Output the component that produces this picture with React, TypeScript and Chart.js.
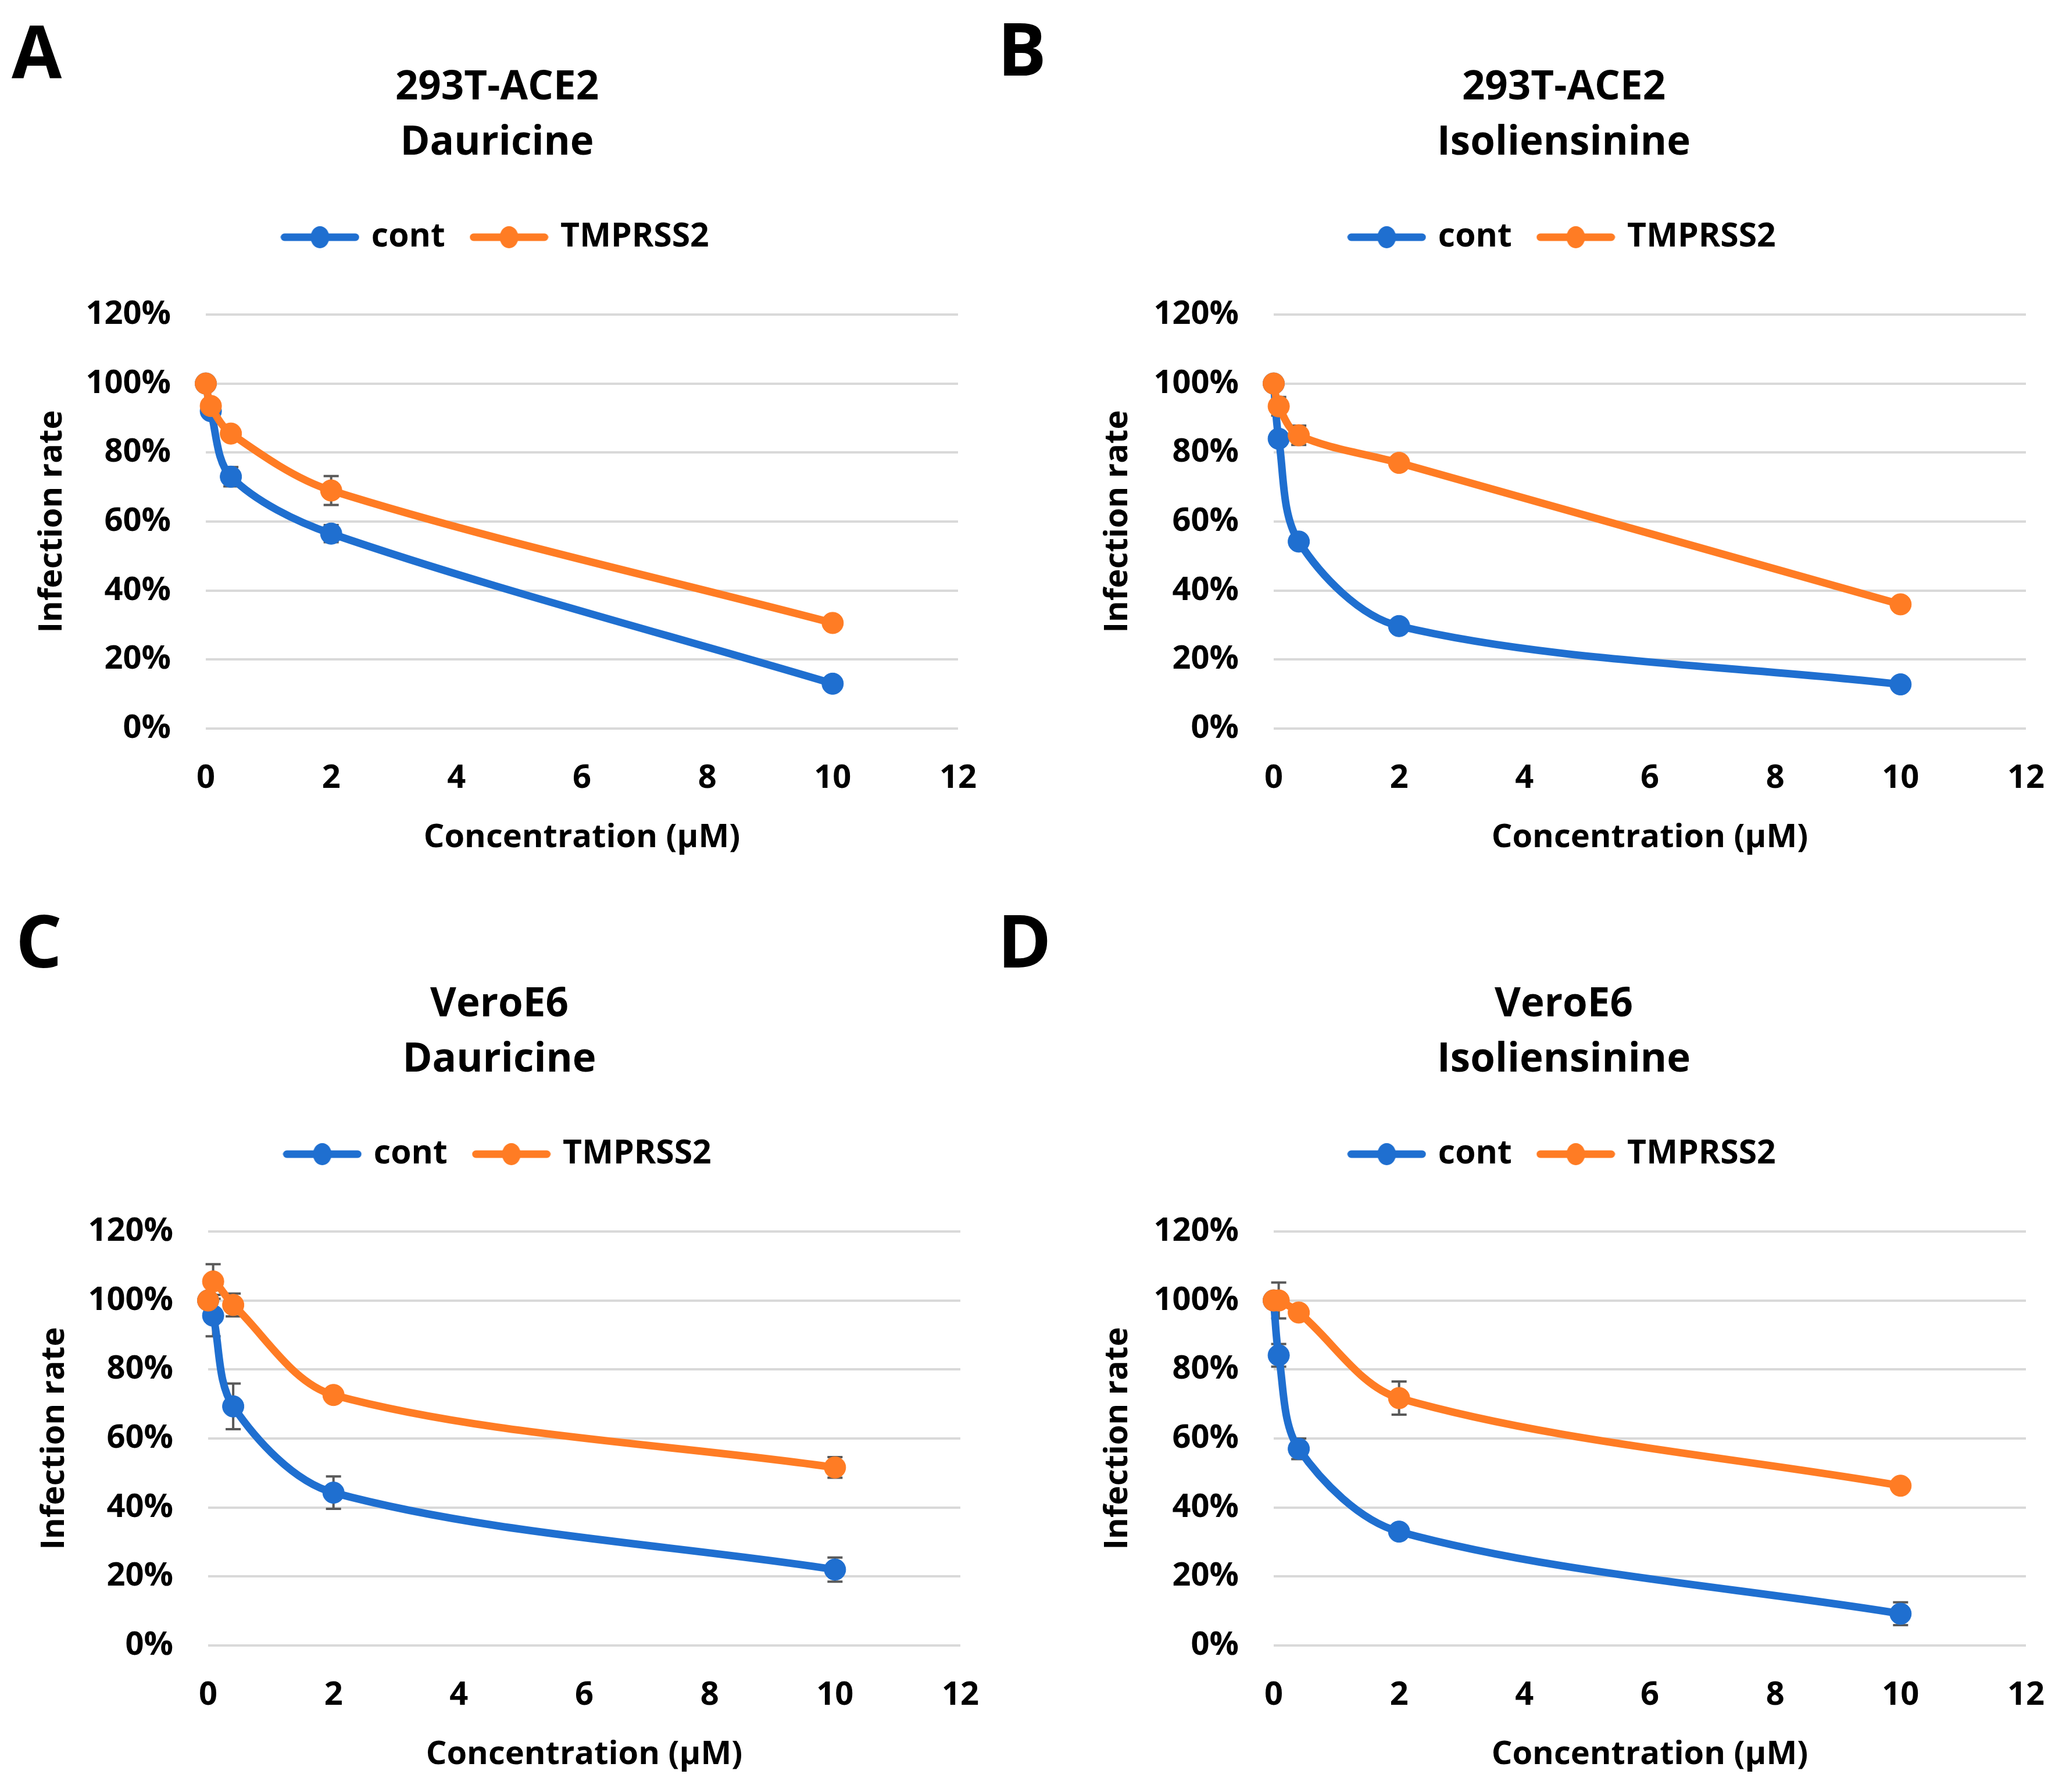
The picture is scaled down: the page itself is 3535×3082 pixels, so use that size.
import { useEffect, useRef } from 'react'
import { Chart, ChartConfiguration, Plugin, registerables } from 'chart.js'

Chart.register(...registerables)

// concentrations (µM) used in every panel
const CONC = [0, 0.08, 0.4, 2, 10]
const SERIES = ['cont', 'TMPRSS2']
const X_MAX = 12
const X_STEP = 2
const Y_MAX = 120
const Y_STEP = 20

// A: 293T-ACE2 / Dauricine
const A_TITLE = ['293T-ACE2', 'Dauricine']
const A_CONT = [100, 92, 73, 56.5, 13]
const A_CONT_ERR = [0, 1.5, 2.8, 2.5, 1.5]
const A_TMP = [100, 93.5, 85.5, 69, 30.6]
const A_TMP_ERR = [0, 1.5, 1.5, 4.2, 1.5]

// B: 293T-ACE2 / Isoliensinine
const B_TITLE = ['293T-ACE2', 'Isoliensinine']
const B_CONT = [100, 84, 54.2, 29.7, 12.8]
const B_CONT_ERR = [0, 2, 1.5, 1.5, 1.5]
const B_TMP = [100, 93.4, 85, 77, 36]
const B_TMP_ERR = [0, 2.7, 2.8, 1.5, 1.5]

// C: VeroE6 / Dauricine
const C_TITLE = ['VeroE6', 'Dauricine']
const C_CONT = [100, 95.6, 69.3, 44.3, 22]
const C_CONT_ERR = [0, 6, 6.6, 4.7, 3.5]
const C_TMP = [100, 105.5, 98.7, 72.6, 51.6]
const C_TMP_ERR = [0, 5, 3.3, 1.5, 3]

// D: VeroE6 / Isoliensinine
const D_TITLE = ['VeroE6', 'Isoliensinine']
const D_CONT = [100, 84.1, 57, 33, 9.2]
const D_CONT_ERR = [0, 3.3, 3, 1.5, 3.3]
const D_TMP = [100, 100, 96.5, 71.7, 46.3]
const D_TMP_ERR = [0, 5.2, 1.5, 4.8, 1.5]

const BLUE = '#1f6fd0'
const ORANGE = '#ff7c24'
const ERR_COLOR = '#595959'
const GRID = '#d9d9d9'
const FONT = '"Open Sans", "Noto Sans", sans-serif'

interface Box {
  left: number
  top: number
  width: number
  height: number
  yWidth: number
  padRight: number
}

interface PanelProps {
  letter: string
  letterPos: { left: number; top: number }
  title: string[]
  cont: number[]
  contErr: number[]
  tmp: number[]
  tmpErr: number[]
  box: Box
}

function makeSwatch(color: string) {
  const c = document.createElement('canvas')
  c.width = 136
  c.height = 40
  const ctx = c.getContext('2d')!
  ctx.strokeStyle = color
  ctx.lineWidth = 13
  ctx.lineCap = 'round'
  ctx.beginPath()
  ctx.moveTo(7, 20)
  ctx.lineTo(129, 20)
  ctx.stroke()
  ctx.fillStyle = color
  ctx.beginPath()
  ctx.ellipse(68, 20, 16, 19, 0, 0, Math.PI * 2)
  ctx.fill()
  return c
}

// error bars drawn under the lines, from the dataset's errors array
const errorBars: Plugin = {
  id: 'errorBars',
  beforeDatasetsDraw(chart) {
    const { ctx } = chart
    const y = chart.scales.y
    ctx.save()
    ctx.strokeStyle = ERR_COLOR
    ctx.lineWidth = 4
    chart.data.datasets.forEach((ds: any, i) => {
      const meta = chart.getDatasetMeta(i)
      meta.data.forEach((pt: any, j) => {
        const e = ds.errors[j]
        if (!e) return
        const v = ds.data[j].y
        const top = y.getPixelForValue(v + e)
        const bot = y.getPixelForValue(v - e)
        ctx.beginPath()
        ctx.moveTo(pt.x, top)
        ctx.lineTo(pt.x, bot)
        ctx.moveTo(pt.x - 13, top)
        ctx.lineTo(pt.x + 13, top)
        ctx.moveTo(pt.x - 13, bot)
        ctx.lineTo(pt.x + 13, bot)
        ctx.stroke()
      })
    })
    ctx.restore()
  },
}

function Panel({ letter, letterPos, title, cont, contErr, tmp, tmpErr, box }: PanelProps) {
  const chartRef = useRef<HTMLCanvasElement>(null)
  const chartInstance = useRef<Chart | null>(null)

  useEffect(() => {
    if (!chartRef.current) return
    if (chartInstance.current) chartInstance.current.destroy()
    const ctx = chartRef.current.getContext('2d')
    if (!ctx) return

    const swatches = [makeSwatch(BLUE), makeSwatch(ORANGE)]

    const line = (label: string, vals: number[], errs: number[], color: string, order: number) => ({
      label,
      data: CONC.map((x, i) => ({ x, y: vals[i] })),
      errors: errs,
      borderColor: color,
      backgroundColor: color,
      pointBackgroundColor: color,
      pointBorderColor: color,
      pointBorderWidth: 1,
      pointRadius: 18.5,
      borderWidth: 13,
      borderCapStyle: 'round',
      borderJoinStyle: 'round',
      tension: 0.32,
      clip: false,
      order,
    })

    const config: ChartConfiguration = {
      type: 'line',
      data: {
        datasets: [
          line(SERIES[0], cont, contErr, BLUE, 2),
          line(SERIES[1], tmp, tmpErr, ORANGE, 1),
        ] as any,
      },
      options: {
        animation: false,
        responsive: false,
        maintainAspectRatio: false,
        layout: { padding: { top: 0, left: 0, bottom: 0, right: box.padRight } },
        plugins: {
          title: {
            display: true,
            text: title,
            color: '#000',
            font: { family: FONT, size: 69, weight: 'bold', lineHeight: 1.38 },
            padding: { top: 84, bottom: 35 },
          },
          subtitle: {
            // empty spacer between legend and plot
            display: true,
            text: '',
            weight: 500,
            font: { size: 10, lineHeight: 1 },
            padding: { top: 84.5, bottom: 0 },
          } as any,
          legend: {
            display: true,
            labels: {
              color: '#000',
              font: { family: FONT, size: 57, weight: 'bold' },
              padding: 50,
              usePointStyle: true,
              pointStyleWidth: 120,
              generateLabels: (chart: Chart) => {
                const items = Chart.defaults.plugins.legend.labels.generateLabels(chart)
                items.sort((a, b) => (a.datasetIndex ?? 0) - (b.datasetIndex ?? 0))
                items.forEach((it) => {
                  it.pointStyle = swatches[it.datasetIndex ?? 0] as any
                })
                return items
              },
            },
          },
          tooltip: { enabled: false },
        },
        scales: {
          x: {
            type: 'linear',
            min: 0,
            max: X_MAX,
            afterFit: (scale: any) => {
              scale.height = 232
              scale.paddingLeft = 0
              scale.paddingRight = 0
            },
            ticks: {
              stepSize: X_STEP,
              padding: 52,
              color: '#000',
              font: { family: FONT, size: 56, weight: 'bold' },
            },
            grid: { display: false, drawTicks: false },
            border: { display: false },
            title: {
              display: true,
              text: 'Concentration (µM)',
              color: '#000',
              font: { family: FONT, size: 56, weight: 'bold', lineHeight: 1.2 },
              padding: { top: 0, bottom: 10 },
            },
          },
          y: {
            type: 'linear',
            min: 0,
            max: Y_MAX,
            afterFit: (scale: any) => {
              scale.width = box.yWidth
            },
            ticks: {
              stepSize: Y_STEP,
              padding: 60,
              color: '#000',
              font: { family: FONT, size: 56, weight: 'bold' },
              callback: (v: any) => `${v}%`,
            },
            grid: { color: GRID, lineWidth: 4, drawTicks: false },
            border: { display: false },
            title: {
              display: true,
              text: 'Infection rate',
              color: '#000',
              font: { family: FONT, size: 56, weight: 'bold', lineHeight: 1 },
              padding: { top: 0, bottom: 0 },
            },
          },
        },
      },
      plugins: [errorBars],
    }

    chartInstance.current = new Chart(ctx, config)

    return () => {
      if (chartInstance.current) {
        chartInstance.current.destroy()
        chartInstance.current = null
      }
    }
  }, [title, cont, contErr, tmp, tmpErr, box])

  return (
    <>
      <div
        style={{
          position: 'absolute',
          left: letterPos.left,
          top: letterPos.top,
          fontFamily: FONT,
          fontWeight: 700,
          fontSize: 125,
          lineHeight: 1,
          color: '#000',
        }}
      >
        {letter}
      </div>
      <canvas
        ref={chartRef}
        width={box.width}
        height={box.height}
        style={{ position: 'absolute', left: box.left, top: box.top, width: box.width, height: box.height }}
      />
    </>
  )
}

const BOX_A: Box = { left: 62, top: 20, width: 1636, height: 1465, yWidth: 292, padRight: 50 }
const BOX_B: Box = { left: 1895, top: 20, width: 1635, height: 1465, yWidth: 296, padRight: 45 }
const BOX_C: Box = { left: 66, top: 1597, width: 1636, height: 1465, yWidth: 292, padRight: 50 }
const BOX_D: Box = { left: 1895, top: 1597, width: 1635, height: 1465, yWidth: 296, padRight: 45 }

export default function App() {
  return (
    <div style={{ background: '#fff' }}>
      <Panel letter="A" letterPos={{ left: 20, top: 23 }} title={A_TITLE} cont={A_CONT} contErr={A_CONT_ERR} tmp={A_TMP} tmpErr={A_TMP_ERR} box={BOX_A} />
      <Panel letter="B" letterPos={{ left: 1716, top: 19 }} title={B_TITLE} cont={B_CONT} contErr={B_CONT_ERR} tmp={B_TMP} tmpErr={B_TMP_ERR} box={BOX_B} />
      <Panel letter="C" letterPos={{ left: 27, top: 1553 }} title={C_TITLE} cont={C_CONT} contErr={C_CONT_ERR} tmp={C_TMP} tmpErr={C_TMP_ERR} box={BOX_C} />
      <Panel letter="D" letterPos={{ left: 1716, top: 1553 }} title={D_TITLE} cont={D_CONT} contErr={D_CONT_ERR} tmp={D_TMP} tmpErr={D_TMP_ERR} box={BOX_D} />
    </div>
  )
}
